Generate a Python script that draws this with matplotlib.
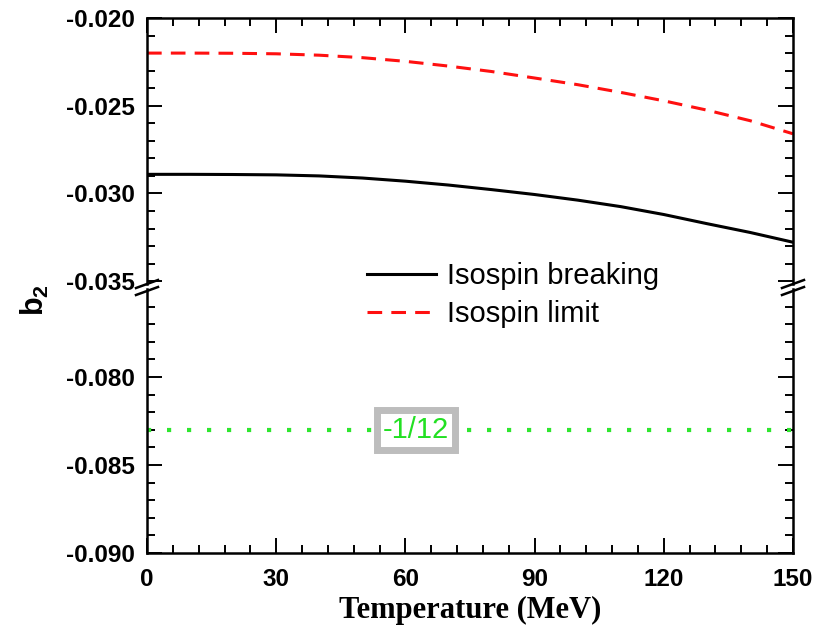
import matplotlib
matplotlib.use("Agg")
import matplotlib.pyplot as plt
from matplotlib.lines import Line2D
from matplotlib.ticker import FixedLocator, MultipleLocator, FormatStrFormatter

plt.rcParams['font.family'] = ['Liberation Sans', 'DejaVu Sans']
plt.rcParams['mathtext.fontset'] = 'custom'
plt.rcParams['mathtext.bf'] = 'Liberation Sans:bold'
plt.rcParams['mathtext.rm'] = 'Liberation Sans'

# data
temperature = [0, 10, 20, 30, 40, 50, 60, 70, 80, 90, 100, 110, 120, 130, 140, 150]
b2_breaking = [-0.02891, -0.02891, -0.02892, -0.02894, -0.02900, -0.02912, -0.02930, -0.02952,
               -0.02978, -0.03006, -0.03038, -0.03075, -0.03120, -0.03172, -0.03222, -0.03278]
b2_limit = [-0.02200, -0.02200, -0.02201, -0.02204, -0.02212, -0.02226, -0.02247, -0.02274,
            -0.02305, -0.02342, -0.02380, -0.02424, -0.02472, -0.02525, -0.02585, -0.02660]
ref_T = [0, 150]
ref_b2 = [-0.083, -0.083]
ref_label = "-1/12"

W, H = 824, 629
fig = plt.figure(figsize=(W / 100, H / 100), dpi=100)

left, right = 147, 793
top_y0, top_y1 = 18, 284
bot_y0, bot_y1 = 289, 553


def fig_rect(x0, x1, y0, y1):
    return [x0 / W, 1 - y1 / H, (x1 - x0) / W, (y1 - y0) / H]


ax_top = fig.add_axes(fig_rect(left, right, top_y0, top_y1))
ax_bot = fig.add_axes(fig_rect(left, right, bot_y0, bot_y1))

red_line, = ax_top.plot(temperature, b2_limit, color='#ff1010', lw=2.2,
                        linestyle=(0, (4.8, 3.0)), label='Isospin limit')
black_line, = ax_top.plot(temperature, b2_breaking, color='black', lw=2.2,
                          label='Isospin breaking')
ax_bot.plot(ref_T, ref_b2, color='#2ee62e', lw=3.0, linestyle=(0, (1.0, 3.8)))

ax_bot.text(62.4, ref_b2[0], ref_label, color='#22e022', fontsize=21,
            ha='center', va='center', zorder=5,
            bbox=dict(boxstyle='square,pad=0.2', facecolor='white',
                      edgecolor='#bdbdbd', linewidth=5))

ax_top.set_ylim(-0.03516, -0.020)
ax_bot.set_ylim(-0.090, -0.0750)
for ax in (ax_top, ax_bot):
    ax.set_xlim(0, 150)
    ax.xaxis.set_major_locator(MultipleLocator(30))
    ax.xaxis.set_minor_locator(MultipleLocator(6))
    ax.tick_params(which='both', direction='in', width=1.4, right=True,
                   labelsize=17.5, pad=9)
    ax.tick_params(which='major', length=11)
    ax.tick_params(which='minor', length=6)
    for s in ax.spines.values():
        s.set_linewidth(1.8)

ax_top.yaxis.set_major_locator(FixedLocator([-0.035, -0.030, -0.025, -0.020]))
ax_top.yaxis.set_minor_locator(FixedLocator([-0.035 + 0.001 * i for i in range(16)]))
ax_bot.yaxis.set_major_locator(FixedLocator([-0.090, -0.085, -0.080]))
ax_bot.yaxis.set_minor_locator(FixedLocator([-0.090 + 0.001 * i for i in range(15)]))
for ax in (ax_top, ax_bot):
    ax.yaxis.set_major_formatter(FormatStrFormatter('%.3f'))

ax_top.spines['bottom'].set_visible(False)
ax_bot.spines['top'].set_visible(False)
ax_top.tick_params(which='both', top=True, bottom=False, labelbottom=False)
ax_bot.tick_params(which='both', top=False, bottom=True)
ax_bot.tick_params(axis='x', pad=11)

for ax in (ax_top, ax_bot):
    for lab in ax.get_xticklabels() + ax.get_yticklabels():
        lab.set_fontweight('bold')

ax_bot.set_xlabel('Temperature (MeV)', family='Liberation Serif', fontweight='bold',
                  fontsize=22, labelpad=3)
fig.text(35 / W, 1 - 300 / H, r'$\mathbf{b_2}$', rotation=90, fontsize=22,
         ha='center', va='center')

# axis break marks
for x0 in (left, right):
    for yc in (284, 291):
        fig.add_artist(Line2D([(x0 - 11) / W, (x0 + 11) / W],
                              [1 - (yc + 4) / H, 1 - (yc - 4) / H],
                              transform=fig.transFigure, color='black', lw=1.8))

fig.legend(handles=[black_line, red_line], loc='center left',
           bbox_to_anchor=(367 / W, 1 - 295 / H), frameon=False, fontsize=21,
           handlelength=2.35, handletextpad=0.38, labelspacing=0.36,
           borderpad=0, borderaxespad=0)

fig.savefig('out.png', dpi=100)
